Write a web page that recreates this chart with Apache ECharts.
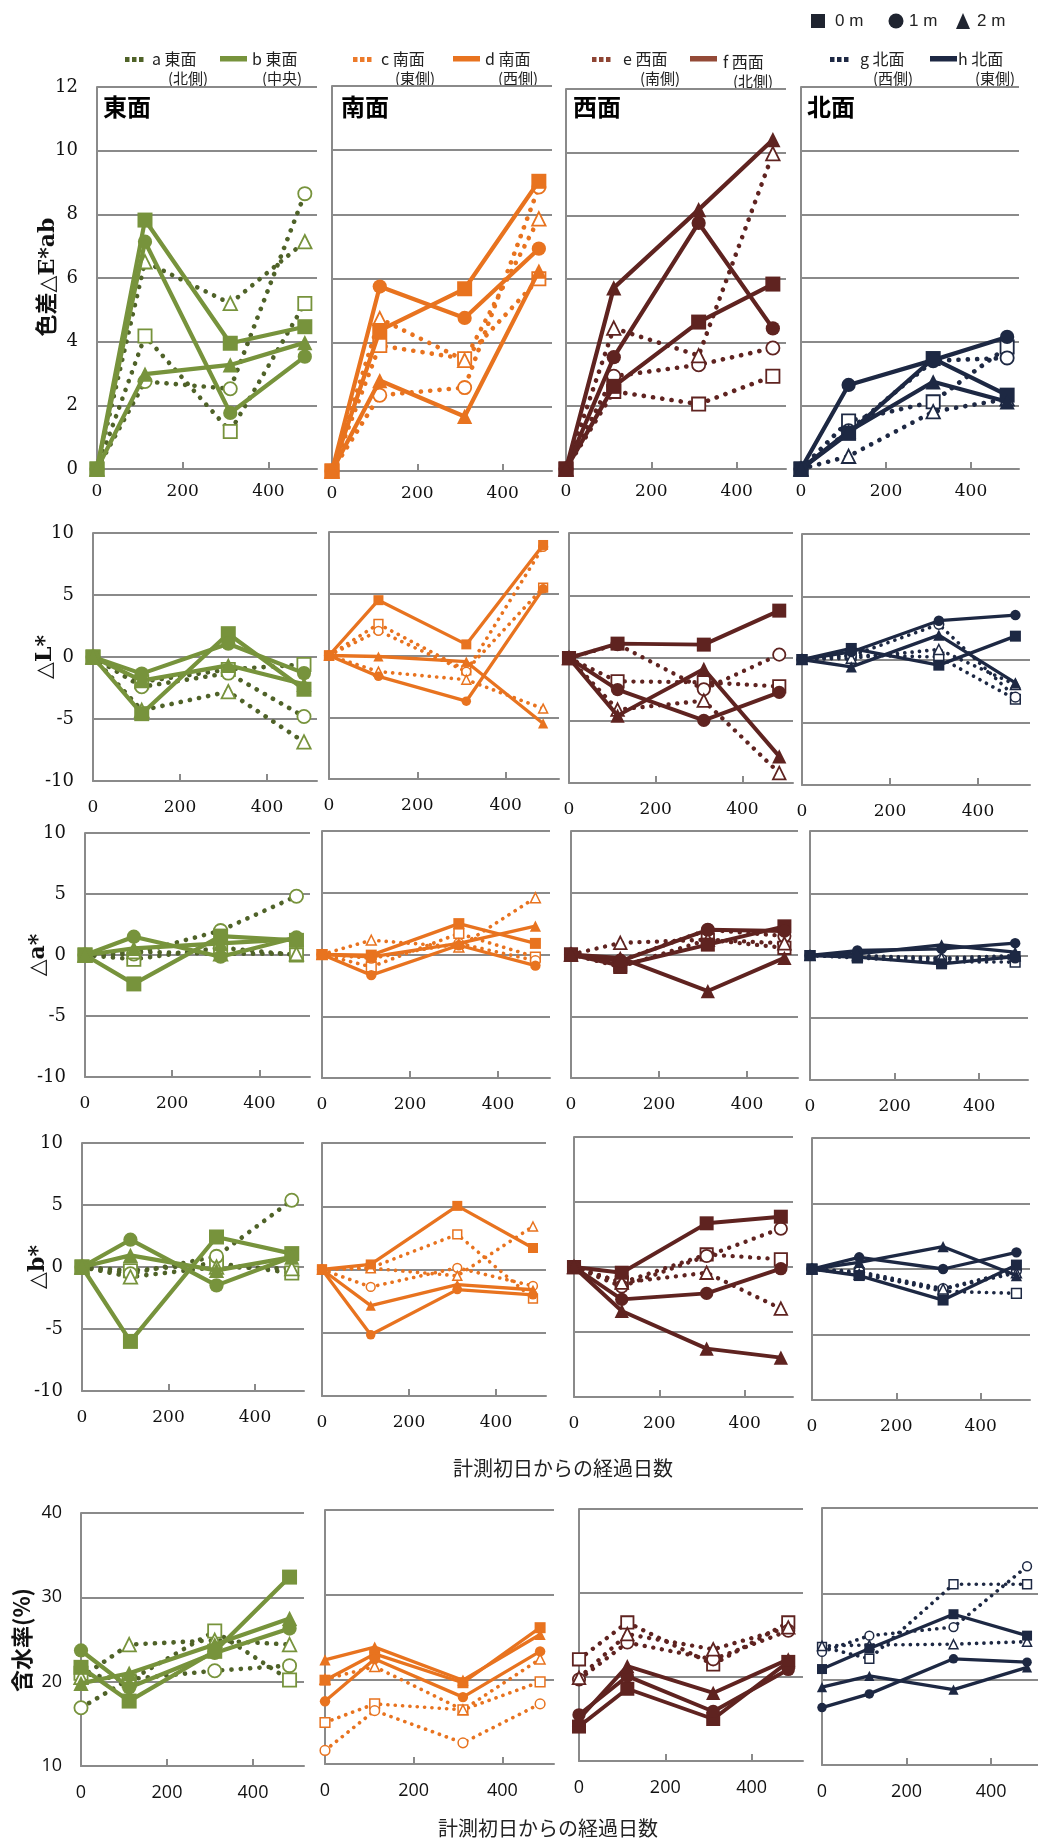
<!DOCTYPE html>
<html><head><meta charset="utf-8">
<script src="https://cdn.jsdelivr.net/npm/echarts@6/dist/echarts.min.js"></script>
<style>html,body{margin:0;padding:0;background:#fff}#c{width:1038px;height:1842px}</style>
</head><body><div id="c"></div>
<script>
// Measurement days since the first survey
const days = [0, 112, 311, 485];
const dayTicks = [0, 200, 400];
const faces = ['東面', '南面', '西面', '北面'];
const sideNames = [['a', 'b'], ['c', 'd'], ['e', 'f'], ['g', 'h']];
const sideSub = [['(北側)', '(中央)'], ['(東側)', '(西側)'], ['(南側)', '(北側)'], ['(西側)', '(東側)']];
const depthLabels = ['0 m', '1 m', '2 m'];
const rowTitles = ['色差△E*ab', '△L*', '△a*', '△b*', '含水率(%)'];
const rowRanges = [[0, 12, 2], [-10, 10, 5], [-10, 10, 5], [-10, 10, 5], [10, 40, 10]];

// Each array: [0 m, 1 m, 2 m] values at the four measurement days
// Colour difference ΔE*ab
const dE_a = [[0, 4.18, 1.18, 5.2], [0, 2.75, 2.52, 8.65], [0, 6.51, 5.2, 7.14]];
const dE_b = [[0, 7.82, 3.95, 4.47], [0, 7.14, 1.76, 3.53], [0, 2.98, 3.27, 3.97]];
const dE_c = [[0, 3.91, 3.5, 5.99], [0, 2.36, 2.6, 8.85], [0, 4.75, 3.45, 7.86]];
const dE_d = [[0, 4.38, 5.68, 9.03], [0, 5.75, 4.77, 6.93], [0, 2.82, 1.7, 6.23]];
const dE_e = [[0, 2.45, 2.05, 2.93], [0, 2.93, 3.29, 3.82], [0, 4.45, 3.58, 9.96]];
const dE_f = [[0, 2.61, 4.64, 5.84], [0, 3.53, 7.77, 4.44], [0, 5.72, 8.19, 10.4]];
const dE_g = [[0, 1.51, 2.11, 3.83], [0, 1.2, 3.4, 3.49], [0, 0.4, 1.8, 2.2]];
const dE_h = [[0, 1.12, 3.47, 2.32], [0, 2.64, 3.42, 4.15], [0, 1.18, 2.74, 2.11]];
// ΔL*
const dL_a = [[0, -2.0, -1.0, -0.6], [0, -2.4, -1.3, -4.8], [0, -4.3, -2.8, -6.85]];
const dL_b = [[0, -4.57, 1.88, -2.6], [0, -1.34, 1.07, -1.3], [0, -1.9, -0.67, -2.2]];
const dL_c = [[0, 2.55, -1.2, 5.5], [0, 2.0, -1.3, 8.8], [0, -1.3, -1.96, -4.3]];
const dL_d = [[0, 4.48, 0.9, 8.95], [0, -1.69, -3.7, 5.4], [0, -0.08, -0.5, -5.5]];
const dL_e = [[0, -1.87, -1.95, -2.27], [0, 1.1, -2.5, 0.27], [0, -4.13, -3.41, -9.2]];
const dL_f = [[0, 1.15, 1.07, 3.79], [0, -2.53, -4.99, -2.75], [0, -4.61, -0.88, -7.87]];
const dL_g = [[0, 0.35, 0.2, -3.17], [0, 0.3, 2.8, -3.0], [0, 0.1, 0.8, -2.0]];
const dL_h = [[0, 0.88, -0.45, 1.86], [0, 0.6, 3.09, 3.54], [0, -0.59, 1.94, -1.86]];
// Δa*
const da_a = [[0, -0.35, 0.6, 0.0], [0, 0.08, 2.0, 4.82], [0, 0.27, 0.1, 0.1]];
const da_b = [[0, -2.37, 1.55, 1.2], [0, 1.5, -0.14, 1.44], [0, 0.54, 0.95, 1.3]];
const da_c = [[0, -1.0, 1.7, -0.2], [0, -0.3, 0.9, -0.5], [0, 1.16, 0.6, 4.6]];
const da_d = [[0, -0.05, 2.5, 0.9], [0, -1.67, 0.75, -0.9], [0, -0.2, 0.9, 2.3]];
const da_e = [[0, -1.0, 1.2, 0.54], [0, -0.5, 2.0, 1.5], [0, 0.94, 1.2, 0.9]];
const da_f = [[0, -0.89, 0.8, 2.28], [0, -0.54, 2.0, 1.9], [0, -0.27, -2.96, -0.27]];
const da_g = [[0, -0.2, -0.5, -0.53], [0, -0.1, -0.3, -0.2], [0, 0.0, -0.2, 0.0]];
const da_h = [[0, -0.13, -0.67, -0.08], [0, 0.4, 0.53, 0.99], [0, 0.13, 0.85, 0.27]];
// Δb*
const db_a = [[0, -0.3, 0.3, -0.48], [0, -0.54, 0.86, 5.38], [0, -0.8, 0.0, -0.13]];
const db_b = [[0, -6.0, 2.42, 1.08], [0, 2.2, -1.48, 0.8], [0, 0.94, -0.27, 0.8]];
const db_c = [[0, 0.13, 2.78, -2.3], [0, -1.38, 0.13, -1.3], [0, 0.1, -0.5, 3.4]];
const db_d = [[0, 0.4, 5.03, 1.7], [0, -5.16, -1.59, -2.0], [0, -2.86, -1.2, -1.6]];
const db_e = [[0, -1.2, 0.97, 0.59], [0, -1.5, 0.85, 2.95], [0, -1.2, -0.44, -3.2]];
const db_f = [[0, -0.44, 3.36, 3.87], [0, -2.49, -2.03, -0.13], [0, -3.38, -6.28, -6.97]];
const db_g = [[0, -0.3, -1.7, -1.86], [0, -0.2, -1.5, -0.13], [0, -0.4, -1.53, -0.3]];
const db_h = [[0, -0.5, -2.37, 0.3], [0, 0.89, 0.0, 1.27], [0, 0.5, 1.7, -0.5]];
// Moisture content (%)
const mc_a = [[21.0, 20.1, 26.0, 20.2], [16.9, 20.3, 21.3, 21.9], [20.5, 24.4, 24.9, 24.4]];
const mc_b = [[21.7, 17.7, 23.6, 32.4], [23.7, 19.3, 23.4, 26.3], [19.8, 21.0, 24.4, 27.5]];
const mc_c = [[14.9, 17.1, 16.4, 19.7], [11.6, 16.3, 12.5, 17.1], [20.0, 21.5, 16.4, 22.4]];
const mc_d = [[19.9, 23.0, 19.6, 26.1], [17.4, 22.4, 17.9, 23.3], [22.3, 23.8, 19.9, 25.3]];
const mc_e = [[22.1, 26.5, 21.5, 26.5], [19.7, 24.1, 22.1, 25.5], [19.9, 25.1, 23.3, 25.9]];
const mc_f = [[14.1, 18.6, 15.0, 21.8], [15.5, 20.1, 15.9, 20.9], [15.0, 21.3, 18.1, 22.1]];
const mc_g = [[23.8, 22.4, 31.1, 31.1], [23.2, 25.1, 26.1, 33.2], [23.9, 24.0, 24.1, 24.4]];
const mc_h = [[21.2, 23.6, 27.6, 25.1], [16.7, 18.3, 22.4, 22.0], [19.1, 20.4, 18.8, 21.4]];

const rowData = [
  [[dE_a, dE_b], [dE_c, dE_d], [dE_e, dE_f], [dE_g, dE_h]],
  [[dL_a, dL_b], [dL_c, dL_d], [dL_e, dL_f], [dL_g, dL_h]],
  [[da_a, da_b], [da_c, da_d], [da_e, da_f], [da_g, da_h]],
  [[db_a, db_b], [db_c, db_d], [db_e, db_f], [db_g, db_h]],
  [[mc_a, mc_b], [mc_c, mc_d], [mc_e, mc_f], [mc_g, mc_h]]
];

// Plot boxes: left, top, width, height, px per day
const panelBoxes = [
  [[97, 87, 220, 382, 0.4285], [332, 86, 220, 385, 0.4265], [566, 89, 220, 380, 0.4265], [801, 87, 218, 382, 0.425]],
  [[93, 533, 224, 248, 0.435], [329, 532, 230, 247, 0.4415], [569, 533, 224, 250, 0.4335], [802, 534, 228, 251, 0.44]],
  [[85, 833, 225, 244, 0.436], [322, 831, 228, 247, 0.44], [571, 831, 227, 247, 0.44], [810, 831, 218, 249, 0.423]],
  [[82, 1143, 222, 248, 0.4325], [322, 1143, 224, 253, 0.435], [574, 1137, 219, 260, 0.4265], [812, 1138, 218, 262, 0.4215]],
  [[81, 1513, 223, 253, 0.43], [325, 1510, 229, 254, 0.4435], [579, 1509, 224, 252, 0.4315], [822, 1508, 223, 257, 0.4365]]
];
const markSize = [[15, 15, 15, 15], [15, 10, 14, 11], [15, 11, 14, 11], [15, 10, 14, 11], [15, 11, 14, 10]];

const faceColors = [
  { solid: '#77933C', dot: '#4F6228', open: '#77933C', leg: ['#4F6228', '#77933C'] },
  { solid: '#E8731F', dot: '#E8731F', open: '#E8731F', leg: ['#EC7A2A', '#E8731F'] },
  { solid: '#5F2320', dot: '#5F2320', open: '#5F2320', leg: ['#8E4433', '#944A37'] },
  { solid: '#1D2843', dot: '#1D2843', open: '#1D2843', leg: ['#1D2843', '#1D2843'] }
];
const symbols = ['rect', 'circle', 'triangle'];
const gridColor = '#8A8A8A';
const serif = '"DejaVu Serif", "Noto Sans CJK JP", serif';
const sans = '"Open Sans", "Noto Sans CJK JP", sans-serif';
const cjk = '"Noto Sans CJK JP", sans-serif';

const grids = [], xAxes = [], yAxes = [], series = [];
panelBoxes.forEach((row, r) => {
  const [ymin, ymax, ystep] = rowRanges[r];
  const labelFont = r === 4 ? sans : serif;
  row.forEach((b, f) => {
    const idx = grids.length;
    grids.push({ left: b[0], top: b[1], width: b[2], height: b[3], containLabel: false });
    xAxes.push({
      gridIndex: idx, type: 'value', min: 0, max: b[2] / b[4],
      axisLine: { show: true, onZero: false, lineStyle: { color: gridColor, width: 2 } },
      axisTick: { show: true, inside: true, length: 7, customValues: [200, 400], lineStyle: { color: gridColor, width: 2 } },
      axisLabel: { customValues: dayTicks, color: '#111', fontFamily: labelFont, fontSize: r === 4 ? 18 : 17,
        margin: r === 0 ? 14 : 18 },
      splitLine: { show: false }
    });
    yAxes.push({
      gridIndex: idx, type: 'value', min: ymin, max: ymax, interval: ystep,
      axisLine: { show: true, onZero: false, lineStyle: { color: gridColor, width: 2 } },
      axisTick: { show: false },
      axisLabel: { show: f === 0, color: '#111', fontFamily: labelFont, fontSize: 18, margin: 19 },
      splitLine: { show: true, lineStyle: { color: gridColor, width: 2 } }
    });
    const ms = markSize[r][f];
    const lw = Math.max(3.3, ms * 0.28);
    const col = faceColors[f];
    // dotted (open markers) series drawn first, solid series on top
    [0, 1].forEach(s => {
      const arr = rowData[r][f][s];
      arr.forEach((vals, d) => {
        const solid = s === 1;
        const size = solid ? ms : ms * 0.88;
        series.push({
          type: 'line', xAxisIndex: idx, yAxisIndex: idx,
          data: days.map((x, i) => [x, vals[i]]),
          symbol: symbols[d],
          symbolSize: d === 2 ? size * 1.02 : (d === 1 && solid ? size * 0.95 : size),
          showSymbol: true, showAllSymbol: true, clip: false,
          animation: false, silent: true,
          z: solid ? 4 : 3,
          lineStyle: solid
            ? { color: col.solid, width: lw, type: 'solid', join: 'round' }
            : { color: col.dot, width: lw * 1.1, type: [0.1, lw * 2.2], cap: 'round' },
          itemStyle: solid
            ? { color: col.solid, borderWidth: 0 }
            : { color: '#ffffff', borderColor: col.open, borderWidth: ms > 12 ? 1.8 : 1.5 },
          emphasis: { disabled: true }
        });
      });
    });
  });
});

// Texts and legends
const graphic = [];
// depth legend, top right
const depthColor = '#1F2430';
graphic.push({ type: 'rect', shape: { x: 811, y: 14, width: 14, height: 14 }, style: { fill: depthColor } });
graphic.push({ type: 'circle', shape: { cx: 896, cy: 21, r: 7.5 }, style: { fill: depthColor } });
graphic.push({ type: 'polygon', shape: { points: [[963, 13], [956, 29], [970, 29]] }, style: { fill: depthColor } });
[[835, depthLabels[0]], [909, depthLabels[1]], [977, depthLabels[2]]].forEach(([x, t]) => {
  graphic.push({ type: 'text', x: x, y: 21, style: { text: t, fill: '#222', font: '17px "Liberation Sans Narrow", "Liberation Sans", sans-serif', textVerticalAlign: 'middle', textAlign: 'left' } });
});

// series legends per face
const dotSwX = [125, 353, 592, 830], dotTextX = [152, 381, 623, 860];
const solSwX = [220, 453, 690, 930], solTextX = [252, 485, 723, 958];
const subX0 = [188, 415, 660, 893], subX1 = [282, 518, 753, 995];
faces.forEach((face, f) => {
  const c = faceColors[f].leg;
  for (let k = 0; k < 3; k++) {
    graphic.push({ type: 'rect', shape: { x: dotSwX[f] + k * 7, y: 57, width: 4.5, height: 5 }, style: { fill: c[0] } });
  }
  graphic.push({ type: 'rect', shape: { x: solSwX[f], y: 56, width: 27, height: 5.5 }, style: { fill: c[1] } });
  const dy = f === 2 ? 3 : 0;
  graphic.push({ type: 'text', x: dotTextX[f], y: 59, style: { text: sideNames[f][0] + ' ' + face, fill: '#222', font: '16px ' + cjk, textVerticalAlign: 'middle' } });
  graphic.push({ type: 'text', x: solTextX[f], y: 59 + dy, style: { text: sideNames[f][1] + ' ' + face, fill: '#222', font: '16px ' + cjk, textVerticalAlign: 'middle' } });
  graphic.push({ type: 'text', x: subX0[f], y: 78, style: { text: sideSub[f][0], fill: '#222', font: '15px ' + cjk, textVerticalAlign: 'middle', textAlign: 'center' } });
  graphic.push({ type: 'text', x: subX1[f], y: 78 + dy, style: { text: sideSub[f][1], fill: '#222', font: '15px ' + cjk, textVerticalAlign: 'middle', textAlign: 'center' } });
});

// face titles in the top row
const faceTitleX = [103, 341, 573, 807];
faces.forEach((face, f) => {
  graphic.push({ type: 'text', x: faceTitleX[f], y: 107, style: { text: face, fill: '#000', font: 'bold 24px ' + cjk, textVerticalAlign: 'middle' } });
});

// row titles (vertical)
const rowTitlePos = [[48, 277], [45, 657], [38, 955], [38, 1267], [22, 1640]];
rowTitles.forEach((t, r) => {
  graphic.push({ type: 'text', x: rowTitlePos[r][0], y: rowTitlePos[r][1], rotation: Math.PI / 2,
    style: { text: t, fill: '#111', font: 'bold 22px ' + (r === 4 ? cjk : serif), textAlign: 'center', textVerticalAlign: 'middle' } });
});

// x-axis titles
graphic.push({ type: 'text', x: 563, y: 1468, style: { text: '計測初日からの経過日数', fill: '#222', font: '20px ' + cjk, textAlign: 'center', textVerticalAlign: 'middle' } });
graphic.push({ type: 'text', x: 548, y: 1828, style: { text: '計測初日からの経過日数', fill: '#222', font: '20px ' + cjk, textAlign: 'center', textVerticalAlign: 'middle' } });

const chart = echarts.init(document.getElementById('c'), null, { renderer: 'canvas', width: 1038, height: 1842 });
chart.setOption({
  backgroundColor: '#ffffff',
  animation: false,
  grid: grids, xAxis: xAxes, yAxis: yAxes, series: series,
  graphic: graphic
});
</script></body></html>
